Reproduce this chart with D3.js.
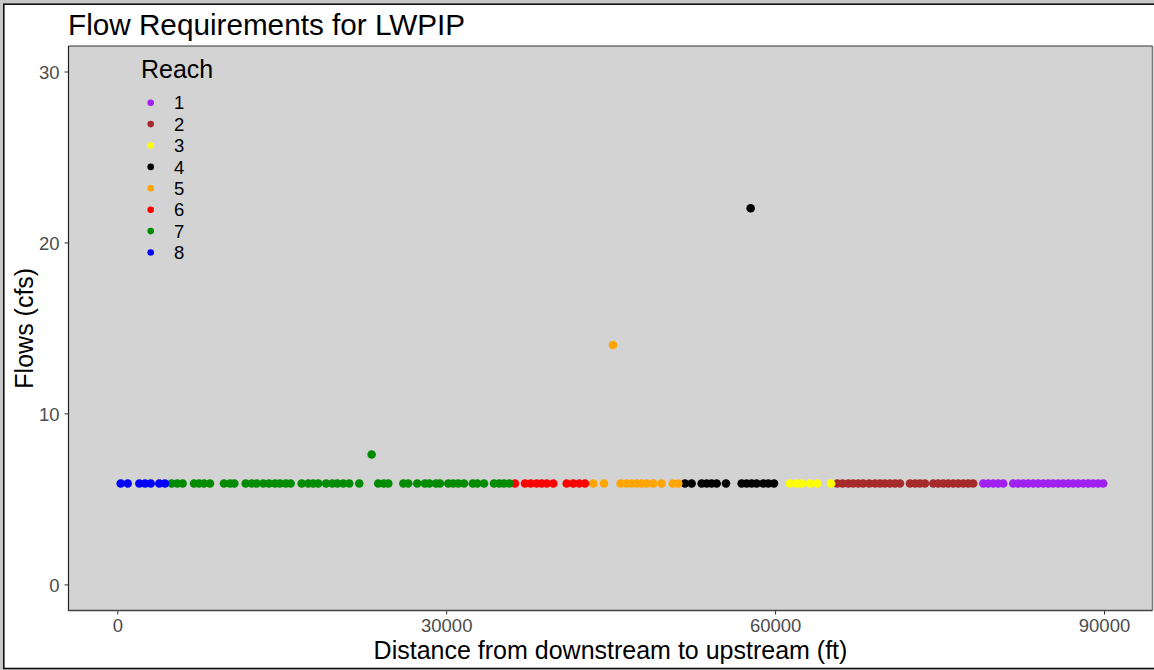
<!DOCTYPE html>
<html>
<head>
<meta charset="utf-8">
<script src="https://cdn.jsdelivr.net/npm/d3@7/dist/d3.min.js"></script>
<style>
  html, body { margin: 0; padding: 0; background: #ffffff; }
  svg { display: block; font-family: "Liberation Sans", Arial, sans-serif; }
</style>
</head>
<body>
<svg id="chart" width="1154" height="670"></svg>
<script>
// Reach labels and their colours
const reaches = ["1", "2", "3", "4", "5", "6", "7", "8"];
const reachColors = ["#a020f0", "#a52a2a", "#ffff00", "#000000", "#ffa500", "#ff0000", "#008b00", "#0000ff"];

// Survey points per reach: [distance from downstream (ft), flow requirement (cfs)]
const reach1 = [[78990,5.9],[79440,5.9],[79900,5.9],[80350,5.9],[80810,5.9],[81720,5.9],[82180,5.9],[82640,5.9],
  [83090,5.9],[83550,5.9],[84000,5.9],[84460,5.9],[84920,5.9],[85370,5.9],[85830,5.9],[86280,5.9],[86740,5.9],
  [87200,5.9],[87650,5.9],[88110,5.9],[88560,5.9],[89020,5.9],[89480,5.9],[89930,5.9]];
const reach2 = [[65670,5.9],[66160,5.9],[66670,5.9],[67130,5.9],[67590,5.9],[68040,5.9],[68590,5.9],[69110,5.9],
  [69570,5.9],[70020,5.9],[70480,5.9],[70940,5.9],[71390,5.9],[72300,5.9],[72760,5.9],[73210,5.9],[73670,5.9],
  [74430,5.9],[74880,5.9],[75340,5.9],[75790,5.9],[76250,5.9],[76710,5.9],[77160,5.9],[77620,5.9],[78070,5.9]];
const reach3 = [[61360,5.9],[61970,5.9],[62420,5.9],[63180,5.9],[63850,5.9],[65100,5.9]];
const reach4 = [[51780,5.9],[52390,5.9],[53300,5.9],[53760,5.9],[54210,5.9],[54670,5.9],[55520,5.9],[56950,5.9],
  [57400,5.9],[57770,22.0],[57860,5.9],[58320,5.9],[58920,5.9],[59380,5.9],[59900,5.9]];
const reach5 = [[43420,5.9],[44390,5.9],[45210,14.0],[45910,5.9],[46460,5.9],[46920,5.9],[47370,5.9],[47830,5.9],
  [48280,5.9],[48890,5.9],[49650,5.9],[50660,5.9],[51170,5.9]];
const reach6 = [[36270,5.9],[37190,5.9],[37710,5.9],[38250,5.9],[38710,5.9],[39170,5.9],[39770,5.9],[40990,5.9],
  [41590,5.9],[42140,5.9],[42660,5.9]];
const reach7 = [[4960,5.9],[5470,5.9],[5960,5.9],[7000,5.9],[7450,5.9],[7900,5.9],[8450,5.9],[9730,5.9],[10280,5.9],
  [10670,5.9],[11710,5.9],[12260,5.9],[12710,5.9],[13320,5.9],[13840,5.9],[14380,5.9],[14840,5.9],[15360,5.9],
  [15810,5.9],[16820,5.9],[17420,5.9],[17880,5.9],[18330,5.9],[19040,5.9],[19610,5.9],[20070,5.9],[20610,5.9],
  [21160,5.9],[22070,5.9],[23200,7.6],[23800,5.9],[24300,5.9],[24720,5.9],[26090,5.9],[26540,5.9],[27360,5.9],
  [28060,5.9],[28460,5.9],[29070,5.9],[29430,5.9],[30190,5.9],[30650,5.9],[31100,5.9],[31620,5.9],[32420,5.9],
  [32840,5.9],[33450,5.9],[34360,5.9],[34840,5.9],[35270,5.9],[35760,5.9]];
const reach8 = [[310,5.9],[950,5.9],[2010,5.9],[2530,5.9],[3050,5.9],[3830,5.9],[4350,5.9]];

const xTicks = [0, 30000, 60000, 90000];
const yTicks = [0, 10, 20, 30];

const reachPoints = [reach1, reach2, reach3, reach4, reach5, reach6, reach7, reach8];
const points = reachPoints.flatMap((pts, i) => pts.map(p => ({ reach: reaches[i], dist: p[0], flow: p[1] })));

const svg = d3.select("#chart");

// outer frame
svg.append("rect").attr("x", 0).attr("y", 0).attr("width", 1154).attr("height", 670).attr("fill", "#c8c8c8");
svg.append("rect").attr("x", 3.8).attr("y", 4.2).attr("width", 1200).attr("height", 664.3)
  .attr("fill", "#ffffff").attr("stroke", "#111").attr("stroke-width", 1.6);

// panel geometry
const panel = { left: 68.5, top: 46, right: 1152.5, bottom: 610.5 };

const x = d3.scaleLinear().domain([0, 90000]).range([117.3, 1104]);
const y = d3.scaleLinear().domain([0, 30]).range([584.4, 71.5]);
const color = d3.scaleOrdinal().domain(reaches).range(reachColors);

svg.append("rect")
  .attr("x", panel.left).attr("y", panel.top)
  .attr("width", panel.right - panel.left).attr("height", panel.bottom - panel.top)
  .attr("fill", "#d3d3d3");

// axes
const xAxis = svg.append("g").attr("transform", `translate(0,${panel.bottom})`)
  .call(d3.axisBottom(x).tickValues(xTicks).tickFormat(d3.format("d")).tickSize(4).tickPadding(4));
const yAxis = svg.append("g").attr("transform", `translate(${panel.left},0)`)
  .call(d3.axisLeft(y).tickValues(yTicks).tickFormat(d3.format("d")).tickSize(4).tickPadding(5));
[xAxis, yAxis].forEach(g => {
  g.select(".domain").remove();
  g.selectAll(".tick line").attr("stroke", "#333").attr("stroke-width", 1);
  g.selectAll(".tick text").attr("fill", "#4d4d4d").style("font-size", "18.5px")
    .style("font-family", "'Liberation Sans', Arial, sans-serif");
});
yAxis.selectAll(".tick text").attr("dy", "0.36em");

// panel border lines
svg.append("line").attr("x1", panel.left).attr("x2", panel.right).attr("y1", panel.top).attr("y2", panel.top)
  .attr("stroke", "#333").attr("stroke-width", 1);
svg.append("line").attr("x1", panel.right).attr("x2", panel.right).attr("y1", panel.top).attr("y2", panel.bottom)
  .attr("stroke", "#777").attr("stroke-width", 1.5);
svg.append("line").attr("x1", panel.left).attr("x2", panel.left).attr("y1", panel.top).attr("y2", panel.bottom + 0.6)
  .attr("stroke", "#222").attr("stroke-width", 1.2);
svg.append("line").attr("x1", panel.left).attr("x2", panel.right).attr("y1", panel.bottom).attr("y2", panel.bottom)
  .attr("stroke", "#444").attr("stroke-width", 1.3);

// points
svg.append("g").selectAll("circle").data(points).join("circle")
  .attr("cx", d => x(d.dist)).attr("cy", d => y(d.flow)).attr("r", 4.3)
  .attr("fill", d => color(d.reach));

// legend
const legend = svg.append("g");
legend.append("text").attr("x", 141).attr("y", 78).attr("font-size", 25).attr("fill", "#000").text("Reach");
const items = legend.selectAll("g.item").data(reaches).join("g").attr("class", "item")
  .attr("transform", (d, i) => `translate(0,${102.7 + i * 21.4})`);
items.append("circle").attr("cx", 150.7).attr("cy", 0).attr("r", 3.3).attr("fill", d => color(d));
items.append("text").attr("x", 174).attr("y", 6.6).attr("font-size", 18.5).attr("fill", "#000").text(d => d);

// titles
svg.append("text").attr("x", 68).attr("y", 34.5).attr("font-size", 29.7).attr("fill", "#000")
  .text("Flow Requirements for LWPIP");
svg.append("text").attr("x", (panel.left + panel.right) / 2).attr("y", 658.5).attr("text-anchor", "middle")
  .attr("font-size", 25).attr("fill", "#000").text("Distance from downstream to upstream (ft)");
svg.append("text").attr("transform", `translate(33,${(panel.top + panel.bottom) / 2}) rotate(-90)`)
  .attr("text-anchor", "middle").attr("font-size", 25).attr("fill", "#000").text("Flows (cfs)");
</script>
</body>
</html>
